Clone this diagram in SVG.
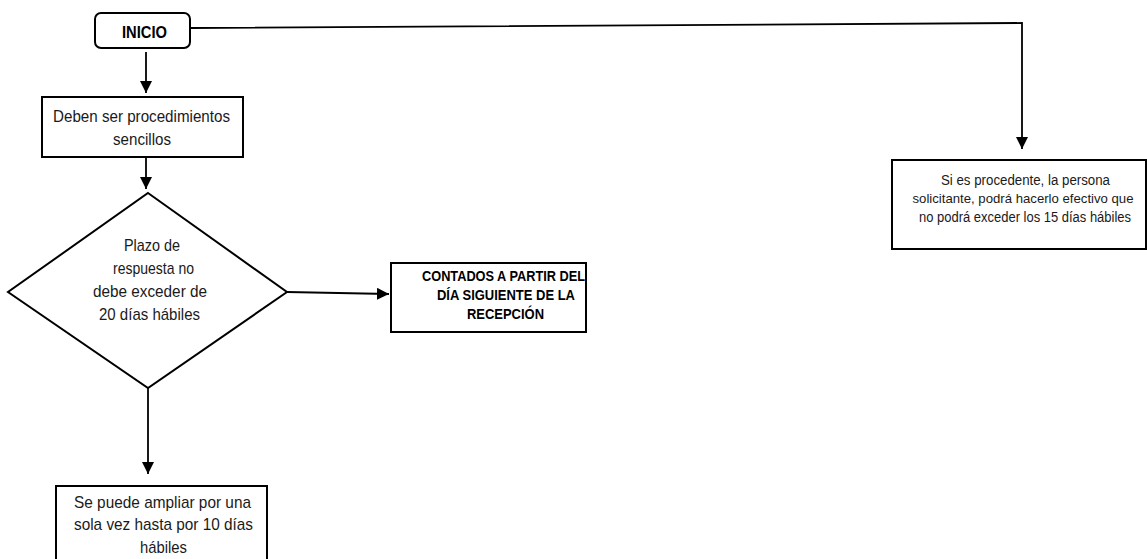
<svg xmlns="http://www.w3.org/2000/svg" width="1147" height="559" viewBox="0 0 1147 559">
<style>
.box{fill:#fff;stroke:#000;stroke-width:2}
.t{font-family:"Liberation Sans",Arial,sans-serif;font-size:17px;fill:#1a1a1a;text-anchor:middle;dominant-baseline:central}
.s{font-size:14px}
.b{font-family:"Liberation Sans",Arial,sans-serif;font-weight:bold;font-size:15.5px;fill:#000;text-anchor:middle;dominant-baseline:central}
.c{fill:none;stroke:#000;stroke-width:1.8}
</style>
<defs>
<marker id="ah" viewBox="0 0 12 12" refX="12" refY="6" markerWidth="12" markerHeight="12" markerUnits="userSpaceOnUse" orient="auto">
<path d="M0,0 L12,6 L0,12 z" fill="#000"/>
</marker>
</defs>
<g id="connectors">
<line class="c" x1="146" y1="52" x2="146" y2="93" marker-end="url(#ah)"/>
<line class="c" x1="146" y1="158" x2="146" y2="189" marker-end="url(#ah)"/>
<line class="c" x1="287" y1="292" x2="389" y2="294" marker-end="url(#ah)"/>
<line class="c" x1="148" y1="388" x2="148" y2="474" marker-end="url(#ah)"/>
<polyline class="c" points="191,28 1022,23 1022,149" marker-end="url(#ah)"/>
</g>
<g id="inicio">
<rect class="box" x="95" y="13" width="95" height="35" rx="6"/>
<text class="b" x="144.5" y="32" textLength="45" lengthAdjust="spacingAndGlyphs" style="font-size:17px">INICIO</text>
</g>
<g id="deben">
<rect class="box" x="42" y="97" width="201" height="60"/>
<text class="t" x="141.5" y="116" textLength="177" lengthAdjust="spacingAndGlyphs">Deben ser procedimientos</text>
<text class="t" x="142" y="139" textLength="58" lengthAdjust="spacingAndGlyphs">sencillos</text>
</g>
<g id="plazo">
<polygon class="box" points="148,193 287,292 148,388 8,292"/>
<text class="t" x="152" y="245" textLength="56" lengthAdjust="spacingAndGlyphs">Plazo de</text>
<text class="t" x="153.5" y="268" textLength="81" lengthAdjust="spacingAndGlyphs">respuesta no</text>
<text class="t" x="150" y="291" textLength="114" lengthAdjust="spacingAndGlyphs">debe exceder de</text>
<text class="t" x="149.5" y="314" textLength="101" lengthAdjust="spacingAndGlyphs">20 días hábiles</text>
</g>
<g id="contados">
<rect class="box" x="391" y="263" width="195" height="69"/>
<text class="b" x="503.5" y="275" textLength="163" lengthAdjust="spacingAndGlyphs">CONTADOS A PARTIR DEL</text>
<text class="b" x="506" y="294" textLength="138" lengthAdjust="spacingAndGlyphs">DÍA SIGUIENTE DE LA</text>
<text class="b" x="505.5" y="313" textLength="77" lengthAdjust="spacingAndGlyphs">RECEPCIÓN</text>
</g>
<g id="ampliar">
<rect class="box" x="56" y="486" width="211" height="80"/>
<text class="t" x="162.5" y="502" textLength="177" lengthAdjust="spacingAndGlyphs">Se puede ampliar por una</text>
<text class="t" x="163.5" y="524" textLength="179" lengthAdjust="spacingAndGlyphs">sola vez hasta por 10 días</text>
<text class="t" x="163.5" y="547" textLength="47" lengthAdjust="spacingAndGlyphs">hábiles</text>
</g>
<g id="procedente">
<rect class="box" x="892" y="160" width="254" height="89"/>
<text class="t s" x="1025.5" y="180" textLength="169" lengthAdjust="spacingAndGlyphs">Si es procedente, la persona</text>
<text class="t s" x="1023" y="198" textLength="221" lengthAdjust="spacingAndGlyphs" style="font-size:13.5px">solicitante, podrá hacerlo efectivo que</text>
<text class="t s" x="1025" y="217" textLength="212" lengthAdjust="spacingAndGlyphs">no podrá exceder los 15 días hábiles</text>
</g>
</svg>
